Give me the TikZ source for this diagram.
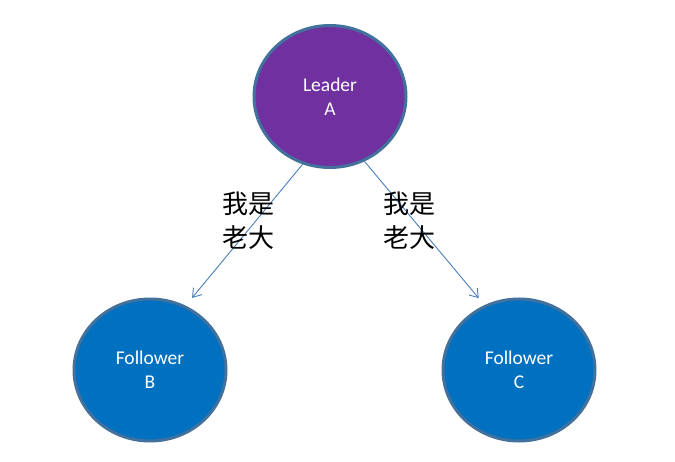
\documentclass[tikz,border=0pt]{standalone}
\usepackage{fontspec}
\setmainfont{Carlito}
\newfontfamily\cjk{Noto Sans CJK SC}
\usepackage{xcolor}
\usetikzlibrary{arrows.meta, positioning, shapes.geometric}

\definecolor{leaderfill}{HTML}{7030A0}
\definecolor{followfill}{HTML}{0070C0}
\definecolor{rimblue}{HTML}{41719C}
\definecolor{linkblue}{HTML}{4A7EBB}

\begin{document}
\begin{tikzpicture}[x=1pt, y=-1pt,
  every node/.style={font=\fontsize{19.5}{24}\selectfont},
  role/.style={ellipse, draw=rimblue, line width=3pt, text=white, align=center,
               minimum width=152pt, minimum height=142pt, inner sep=0pt},
  link/.style={draw=linkblue, line width=0.9pt, -{Straight Barb[length=8pt,width=11pt]}},
  saying/.style={font=\cjk\fontsize{26}{34}\selectfont, align=center, inner sep=0pt}]
  \useasboundingbox (0,0) rectangle (675,462);
  % ---------- NODES ----------
  \node[role, fill=leaderfill] (A) at (330,96.5) {Leader\\A};
  \node[role, fill=followfill] (B) at (150,370) {Follower\\B};
  \node[role, fill=followfill] (C) at (519,370) {Follower\\C};
  % ---------- LINKS ----------
  \draw[link, shorten >=10pt] (A.248) -- (B.61);
  \draw[link, shorten >=9pt] (A.298) -- (C.118);
  \node[saying] (sayB) at (248,221) {我是\\老大};
  \node[saying] (sayC) at (409,221) {我是\\老大};
\end{tikzpicture}
\end{document}
